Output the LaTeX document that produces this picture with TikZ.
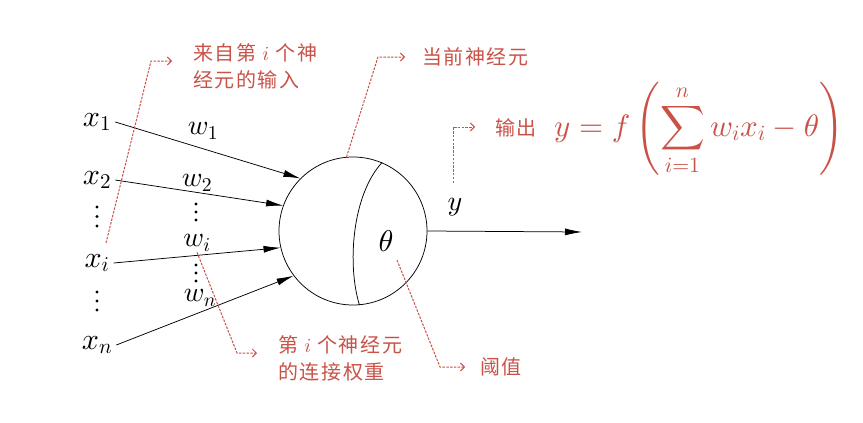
\documentclass[tikz,border=0pt]{standalone}
\usepackage{fontspec}
\DeclareFontShape{OML}{cmm}{m}{it}{<->cmmi10}{}
\DeclareFontShape{OMS}{cmsy}{m}{n}{<->cmsy10}{}
\DeclareFontShape{OMX}{cmex}{m}{n}{<->cmex10}{}
\DeclareFontShape{OT1}{cmr}{m}{n}{<->cmr10}{}
\newfontfamily\cjk[LetterSpace=8]{Noto Sans CJK SC}
\usetikzlibrary{arrows.meta}
\definecolor{anno}{RGB}{201,82,72}
\begin{document}
\begin{tikzpicture}[x=1pt,y=-1pt,
  lbl/.style={font=\fontsize{28}{32}\selectfont, inner sep=1pt},
  xlbl/.style={font=\fontsize{30}{32}\selectfont, inner sep=1pt, inner xsep=4pt},
  syn/.style={line width=0.75pt, -{Latex[length=17pt,width=7pt]}},
  lead/.style={draw=anno, line width=1pt, dash pattern=on 2.5pt off 1.3pt, -{Straight Barb[length=4pt,width=8pt]}},
  note/.style={font=\cjk\fontsize{20}{27}\selectfont, text=anno, align=left, anchor=west, inner sep=0pt},
  dotc/.style={fill=black}]
\useasboundingbox (0,0) rectangle (863,423);

% neuron
\node[circle, draw, line width=0.75pt, minimum size=148pt, inner sep=0pt] (neuron) at (353,231) {};
\draw[line width=0.75pt] (neuron.67) .. controls (352,195) and (347,265) .. (neuron.-85);
\node[font=\fontsize{30}{32}\selectfont] (th) at (386,241) {$\theta$};

% inputs
\node[xlbl] (x1) at (97,122) {$x_1$};
\node[xlbl] (x2) at (97,180) {$x_2$};
\node[xlbl] (xi) at (97,263) {$x_i$};
\node[xlbl] (xn) at (97,345) {$x_n$};
\node[lbl] (w1) at (203,131) {$w_1$};
\node[lbl] (w2) at (197,183) {$w_2$};
\node[lbl] (wi) at (197,243) {$w_i$};
\node[lbl] (wn) at (200,298) {$w_n$};
\draw[syn] (x1.east) -- (neuron.135);
\draw[syn] (x2.east) -- (neuron.160);
\draw[syn] (xi.east) -- (neuron.193);
\draw[syn] (xn.east) -- (neuron.217);
\foreach \yy in {207,216.5,226,292,301,310} \fill[dotc] (97,\yy) circle (1.6);
\foreach \yy in {204,212,220,265,273,281} \fill[dotc] (196,\yy) circle (1.6);

% output
\node[lbl] (y) at (455,207) {$y$};
\coordinate (out) at (582,232);
\draw[syn] (neuron.east) -- (out);

% annotations
\node[note] (t1) at (193,66) {来自第 $i$ 个神\\经元的输入};
\coordinate (a1) at (106,243); \coordinate (b1) at (151,61); \coordinate (e1) at (172,61);
\draw[lead] (a1) -- (b1) -- (e1);

\node[note] (t2) at (422,57) {当前神经元};
\coordinate (b2) at (378,57); \coordinate (e2) at (405,57);
\draw[lead] (neuron.95) -- (b2) -- (e2);

\node[note] (t3) at (495,128) {输出};
\node[anchor=west, text=anno, font=\fontsize{31}{34}\selectfont, inner sep=0pt] (f) at (554,129)
  {$\displaystyle y = f\left(\sum_{i=1}^{n} w_i x_i - \theta\right)$};
\coordinate (a3) at (453,183); \coordinate (b3) at (453,127); \coordinate (e3) at (475,127);
\draw[lead] (a3) -- (b3) -- (e3);

\node[note] (t4) at (278,358) {第 $i$ 个神经元\\的连接权重};
\coordinate (b4) at (237,353); \coordinate (e4) at (257,353);
\draw[lead] (wi.south) -- (b4) -- (e4);

\node[note] (t5) at (480,367) {阈值};
\coordinate (a5) at (397,260); \coordinate (b5) at (440,367); \coordinate (e5) at (465,367);
\draw[lead] (a5) -- (b5) -- (e5);
\end{tikzpicture}
\end{document}
